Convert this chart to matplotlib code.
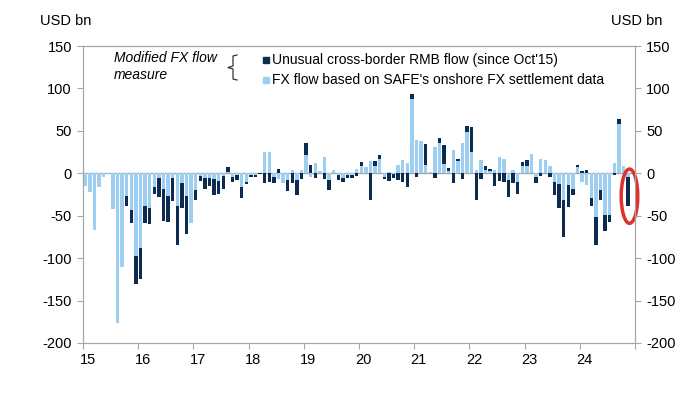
import matplotlib
matplotlib.use("Agg")
import matplotlib.pyplot as plt
import numpy as np
from matplotlib.patches import Ellipse, Rectangle
from matplotlib.lines import Line2D

plt.rcParams['font.family'] = ['Liberation Sans', 'DejaVu Sans']

# monthly data, Jan 2015 .. Nov 2024 (USD bn)
safe_flow = [
    -15, -22, -67, -16, -4, -1, -42, -176, -110, -27, -43, -98,      # 2015
    -88, -39, -41, -16, -5, -19, -27, -6, -39, -12, -27, -59,        # 2016
    -20, -3, -6, -6, -7, -9, -3, 2, -4, -2, -16, -10,                # 2017
    -2, -2, 0, 25, 25, -4, -7, -11, -8, 4, -8, 4,                    # 2018
    21, -4, 12, 3, 19, -8, 4, -2, -6, -2, -2, 5,                     # 2019
    8, 7, 14, 9, 17, -4, 1, -1, 10, 16, 12, 88,                      # 2020
    39, 38, 10, 2, 31, 36, 11, 3, 27, 15, 36, 49,                    # 2021
    25, 4, 16, 4, 3, 4, 19, 17, -8, 4, -10, 9,                       # 2022
    8, 23, -4, 17, 16, 9, -10, -13, -31, -14, -19, 7,                # 2023
    -10, -14, -29, -51, -20, -49, -49, 12, 58, 8, -4,                # 2024
]
rmb_flow = [
    0, 0, 0, 0, 0, 0, 0, 0, 0, -12, -15, -32,
    -36, -19, -19, -8, -23, -37, -30, -27, -45, -29, -45, 0,
    -11, -6, -12, -9, -18, -15, -16, 5, -6, -6, -13, -3,
    -2, -2, -1, -11, -10, -7, 5, 0, -13, -12, -17, -7,
    15, 10, -5, 0, -7, -12, 0, -6, -4, -4, -4, -3,
    5, 0, -31, 5, 4, -3, -9, -5, -8, -10, -16, 5,
    -4, 0, 24, 0, -6, 5, 22, 3, -12, 2, -7, 7,
    29, -31, -7, 5, 2, -15, -9, -10, -20, -12, -14, 4,
    8, 0, -7, -3, 0, -4, -15, -28, -44, -26, -6, 3,
    3, 4, -10, -34, -11, -19, -8, -2, 6, 0, -35,
]
years = ['15', '16', '17', '18', '19', '20', '21', '22', '23', '24']
yticks = [150, 100, 50, 0, -50, -100, -150, -200]

light = '#9dcff2'
navy = '#0d2b50'
grey = '#a6a6a6'

safe = np.array(safe_flow, dtype=float)
rmb = np.array(rmb_flow, dtype=float)
x = np.arange(len(safe))
# stack the navy part on the light part when both have the same sign
bottom = np.where(np.sign(safe) == np.sign(rmb), safe, 0)

fig = plt.figure(figsize=(7, 3.94), dpi=100)
ax = fig.add_axes([83 / 700, 1 - 343 / 394, 552 / 700, 297 / 394])

ax.bar(x, safe, width=0.74, color=light, zorder=2)
ax.bar(x, rmb, width=0.74, bottom=bottom, color=navy, zorder=3)
ax.axhline(0, color=grey, lw=1, zorder=1)

ax.set_xlim(-0.5, 119.5)
ax.set_ylim(-200, 150)
ax.set_yticks(yticks)
ax.set_yticklabels([str(v) for v in yticks])
ax.set_xticks([12 * k - 0.5 for k in range(11)])
ax.set_xticklabels([])
ax.set_xticks([12 * k + 0.5 for k in range(10)], minor=True)
ax.set_xticklabels(years, minor=True)
ax.tick_params(axis='x', which='minor', length=0, pad=7, labelsize=10.5)
ax.tick_params(axis='x', which='major', length=4, color=grey)
ax.tick_params(axis='y', length=4, color=grey, labelsize=10.5, pad=4)

for s in ax.spines.values():
    s.set_color(grey)

ax2 = ax.twinx()
ax2.set_ylim(-200, 150)
ax2.set_yticks(yticks)
ax2.set_yticklabels([str(v) for v in yticks])
ax2.tick_params(axis='y', length=4, color=grey, labelsize=10.5, pad=4)
for s in ax2.spines.values():
    s.set_color(grey)

# red ring round the latest month
ax.add_patch(Ellipse((118.3, -27), 3.6, 64, fill=False, ec='#e0302e', lw=2.5,
                     clip_on=False, zorder=5))

fig.text(40 / 700, 1 - 21 / 394, 'USD bn', fontsize=10.5, va='center')
fig.text(611 / 700, 1 - 21 / 394, 'USD bn', fontsize=10.5, va='center')

fig.text(114 / 700, 1 - 58 / 394, 'Modified FX flow', fontsize=10, style='italic', va='center')
fig.text(114 / 700, 1 - 75 / 394, 'measure', fontsize=10, style='italic', va='center')

# curly bracket
bx = [237, 233, 233, 228, 233, 233, 237]
by = [55, 56, 66, 67.5, 69, 79, 80]
fig.add_artist(Line2D([v / 700 for v in bx], [1 - v / 394 for v in by], color='#333333', lw=0.9))

fig.add_artist(Rectangle((263 / 700, 1 - 63 / 394), 6 / 700, 6 / 394, color=navy))
fig.text(272 / 700, 1 - 60 / 394, "Unusual cross-border RMB flow (since Oct'15)", fontsize=10, va='center')
fig.add_artist(Rectangle((263 / 700, 1 - 83 / 394), 6 / 700, 6 / 394, color=light))
fig.text(272 / 700, 1 - 80 / 394, "FX flow based on SAFE's onshore FX settlement data", fontsize=10, va='center')

fig.savefig('out.png', dpi=100)
